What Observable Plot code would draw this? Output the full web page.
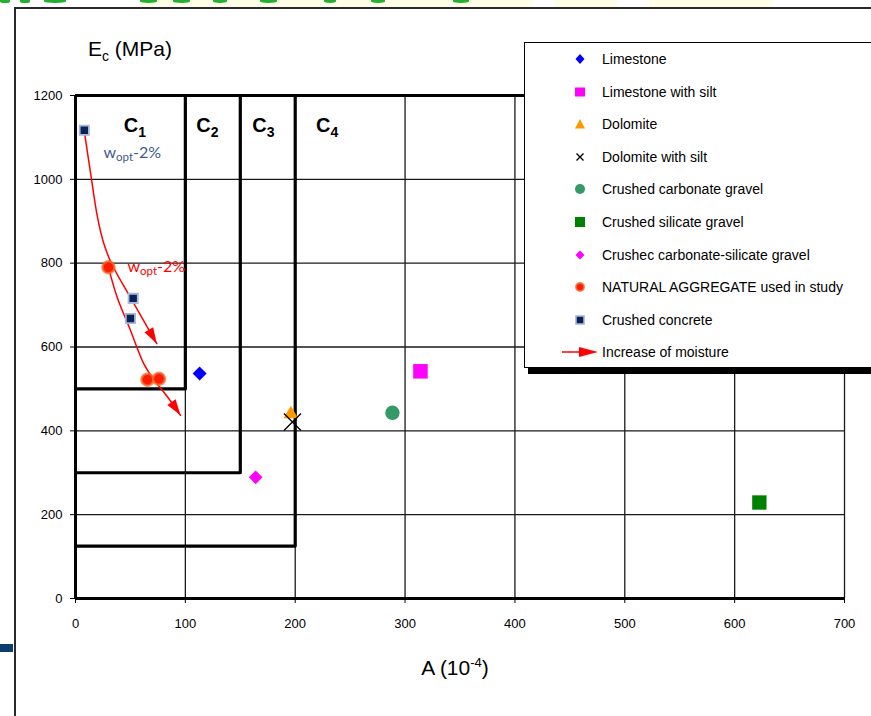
<!DOCTYPE html>
<html>
<head>
<meta charset="utf-8">
<script src="https://cdn.jsdelivr.net/npm/d3@7"></script>
<script src="https://cdn.jsdelivr.net/npm/@observablehq/plot@0.6"></script>
<style>
html, body { margin: 0; padding: 0; background: #fff; }
#wrap { position: relative; width: 871px; height: 716px; overflow: hidden; font-family: "Liberation Sans", Arial, sans-serif; color: #000; }
#wrap svg.chart { position: absolute; left: 0; top: 0; }
.frameTop { position: absolute; left: 15px; top: 7px; width: 900px; height: 2px; background: #2a2a2a; }
.frameLeft { position: absolute; left: 14px; top: 7px; width: 2px; height: 720px; background: #2a2a2a; }
.band { position: absolute; top: 0; height: 7px; background: #ffffe8; }
.blip { position: absolute; top: 0; height: 3px; background: #22b030; border-radius: 0 0 50% 50%; }
.bluebar { position: absolute; left: 0; top: 644px; width: 13px; height: 8px; background: #0b3d6e; }
.axtitle { position: absolute; font-size: 21px; white-space: nowrap; line-height: 24px; }
.legend { position: absolute; left: 524px; top: 42px; width: 400px; height: 324px; border: 1px solid #000; background: #fff; box-shadow: 4px 6px 0 #000; }
.lrow { position: absolute; left: 0; height: 20px; width: 380px; }
.lrow svg { position: absolute; left: 0; top: 0; }
.lrow span { position: absolute; left: 77px; top: 2px; font-size: 14px; line-height: 16px; white-space: nowrap; }
</style>
</head>
<body>
<div id="wrap"></div>
<script>
// ---------- data ----------
const xTicks = [0, 100, 200, 300, 400, 500, 600, 700];
const yTicks = [0, 200, 400, 600, 800, 1000, 1200];

const classNames = ["C1", "C2", "C3", "C4"];
const classMaxA = [100, 150, 200];
const classMinE = [500, 300, 125];
const classLabelA = [54, 120, 171, 229];
const classLabelE = 1128;

const seriesNames = [
  "Limestone",
  "Limestone with silt",
  "Dolomite",
  "Dolomite with silt",
  "Crushed carbonate gravel",
  "Crushed silicate gravel",
  "Crushec carbonate-silicate gravel",
  "NATURAL AGGREGATE used in study",
  "Crushed concrete"
];
const arrowLegendLabel = "Increase of moisture";

// [A (10^-4), Ec (MPa)]
const limestone = [[113, 537]];
const limestoneSilt = [[314, 542]];
const dolomite = [[196, 440]];
const dolomiteSilt = [[197.5, 421]];
const crushedCarbonate = [[288.5, 443]];
const crushedSilicate = [[622.5, 229]];
const crushedCarbSil = [[164, 289]];
const naturalAggregate = [[30, 790], [65.5, 522], [76, 524]];
const crushedConcrete = [[8, 1117], [52.5, 716], [50, 668]];

const concreteMoisturePath = [[8, 1115], [14, 1010], [20, 910], [26, 845], [33, 798], [50, 718], [65.5, 647], [74, 608]];
const naturalMoisturePath = [[30, 790], [38, 718], [50, 640], [62, 561], [70, 527], [84, 480], [95.6, 437]];

const woptLabelText = "wopt-2%";
const woptLabelConcrete = [[25.5, 1050]];
const woptLabelNatural = [[47.3, 778]];

// ---------- derived tables ----------
const toRows = arr => arr.map(([a, e]) => ({a, e}));
const boxLines = classMaxA.flatMap((amax, i) => [
  {c: classNames[i], a: 0, e: classMinE[i]},
  {c: classNames[i], a: amax, e: classMinE[i]},
  {c: classNames[i], a: amax, e: 1200}
]);
const classLabels = classNames.map((c, i) => ({c, a: classLabelA[i], e: classLabelE}));
const moistureRows = [
  ...concreteMoisturePath.map(([a, e]) => ({k: "concrete", a, e})),
  ...naturalMoisturePath.map(([a, e]) => ({k: "natural", a, e}))
];

function arrowHead(color) {
  const ns = "http://www.w3.org/2000/svg";
  const m = document.createElementNS(ns, "marker");
  m.setAttribute("viewBox", "-17 -6 18 12");
  m.setAttribute("markerWidth", 18);
  m.setAttribute("markerHeight", 12);
  m.setAttribute("markerUnits", "userSpaceOnUse");
  m.setAttribute("orient", "auto");
  m.setAttribute("refX", 0);
  m.setAttribute("refY", 0);
  const p = document.createElementNS(ns, "path");
  p.setAttribute("d", "M-16,-5L0,0L-16,5Z");
  p.setAttribute("fill", color);
  p.setAttribute("stroke", "none");
  m.appendChild(p);
  return m;
}

const chart = Plot.plot({
  width: 871,
  height: 716,
  marginLeft: 75,
  marginRight: 27,
  marginTop: 95,
  marginBottom: 118,
  style: {fontFamily: '"Liberation Sans", Arial, sans-serif', fontSize: "13px", color: "#000", background: "transparent", overflow: "visible"},
  x: {domain: [0, 700], ticks: xTicks, tickSize: 5, tickPadding: 15, label: null, tickFormat: d => String(d)},
  y: {domain: [0, 1200], ticks: yTicks, tickSize: 5, tickPadding: 8, label: null, tickFormat: d => String(d)},
  marks: [
    Plot.ruleX(xTicks.filter(d => d > 0), {stroke: "#1a1a1a", strokeWidth: 1.3}),
    Plot.ruleY(yTicks.filter(d => d > 0 && d < 1200), {stroke: "#1a1a1a", strokeWidth: 1.3}),
    Plot.ruleY([1200], {stroke: "#000", strokeWidth: 3}),
    Plot.line(boxLines, {x: "a", y: "e", z: "c", stroke: "#000", strokeWidth: 3.2}),
    Plot.ruleX([0], {stroke: "#000", strokeWidth: 3}),
    Plot.ruleY([0], {stroke: "#000", strokeWidth: 3}),
    Plot.line(moistureRows, {x: "a", y: "e", z: "k", curve: "catmull-rom", stroke: "#ff0000", strokeWidth: 1.5, markerEnd: arrowHead}),
    Plot.dot(toRows(limestone), {x: "a", y: "e", symbol: "diamond2", r: 6.3, fill: "#0000ff"}),
    Plot.dot(toRows(limestoneSilt), {x: "a", y: "e", symbol: "square", r: 8.2, fill: "#ff00ff"}),
    Plot.dot(toRows(crushedCarbonate), {x: "a", y: "e", symbol: "circle", r: 7.2, fill: "#339966"}),
    Plot.dot(toRows(crushedSilicate), {x: "a", y: "e", symbol: "square", r: 8.1, fill: "#008000"}),
    Plot.dot(toRows(crushedCarbSil), {x: "a", y: "e", symbol: "diamond2", r: 6.1, fill: "#ff00ff"}),
    Plot.dot(toRows(dolomite), {x: "a", y: "e", symbol: "triangle", r: 5.4, fill: "#ff9900"}),
    Plot.dot(toRows(dolomiteSilt), {x: "a", y: "e", symbol: "times", r: 7.8, stroke: "#000", strokeWidth: 1.3}),
    Plot.dot(toRows(naturalAggregate), {x: "a", y: "e", symbol: "circle", r: 6, fill: "#ff1a00", stroke: "#f07030", strokeWidth: 2.5, strokeOpacity: 0.75}),
    Plot.dot(toRows(crushedConcrete), {x: "a", y: "e", symbol: "square", r: 5.2, fill: "#0a2258", stroke: "#a8b8d8", strokeWidth: 1.8}),
    Plot.text(classLabels, {x: "a", y: "e", text: "c", fontSize: 20, fontWeight: "bold", textAnchor: "middle", fill: "#000"}),
    Plot.text(toRows(woptLabelConcrete), {x: "a", y: "e", text: () => woptLabelText, fontSize: 16, textAnchor: "start", lineAnchor: "bottom", fill: "#3b5b8c", fontFamily: "Lato, 'Open Sans', sans-serif"}),
    Plot.text(toRows(woptLabelNatural), {x: "a", y: "e", text: () => woptLabelText, fontSize: 16, textAnchor: "start", lineAnchor: "bottom", fill: "#ff0000", fontFamily: "Lato, 'Open Sans', sans-serif"})
  ]
});
chart.classList.add("chart");

// rich text: subscripts
const NS = "http://www.w3.org/2000/svg";
function tspan(txt, attrs) {
  const t = document.createElementNS(NS, "tspan");
  for (const k in attrs) t.setAttribute(k, attrs[k]);
  t.textContent = txt;
  return t;
}
chart.querySelectorAll("text").forEach(t => {
  const s = t.textContent;
  if (/^C\d$/.test(s)) {
    const host = t.querySelector("tspan") || t;
    host.textContent = "";
    host.appendChild(tspan("C", {}));
    host.appendChild(tspan(s.slice(1), {"font-size": 14, dy: "5"}));
  } else if (s === woptLabelText) {
    const host = t.querySelector("tspan") || t;
    host.textContent = "";
    host.appendChild(tspan("w", {}));
    host.appendChild(tspan("opt", {"font-size": 11.5, dy: "3"}));
    host.appendChild(tspan("-2%", {dy: "-3"}));
  }
});

const wrap = document.getElementById("wrap");
wrap.appendChild(chart);

// frame and slide decoration
const deco = [
  ["band", 140, 393], ["band", 555, 62], ["band", 649, 124],
  ["blip", 0, 10], ["blip", 20, 10], ["blip", 44, 22], ["blip", 140, 17], ["blip", 173, 17],
  ["blip", 213, 14], ["blip", 260, 17], ["blip", 324, 12], ["blip", 371, 14], ["blip", 453, 16]
];
deco.forEach(([cls, left, w]) => {
  const d = document.createElement("div");
  d.className = cls; d.style.left = left + "px"; d.style.width = w + "px";
  wrap.appendChild(d);
});
["frameTop", "frameLeft", "bluebar"].forEach(c => {
  const d = document.createElement("div"); d.className = c; wrap.appendChild(d);
});

// axis titles
const yt = document.createElement("div");
yt.className = "axtitle";
yt.style.left = "88px"; yt.style.top = "37px";
yt.innerHTML = 'E<span style="font-size:14px;position:relative;top:5px">c</span> (MPa)';
wrap.appendChild(yt);
const xt = document.createElement("div");
xt.className = "axtitle";
xt.style.left = "455px"; xt.style.top = "656px"; xt.style.transform = "translateX(-50%)";
xt.innerHTML = 'A (10<span style="font-size:13px;position:relative;top:-8px">-4</span>)';
wrap.appendChild(xt);

// legend
const legendSymbols = [
  '<path d="M55,5 L59.5,10 L55,15 L50.5,10Z" fill="#0000ff"/>',
  '<rect x="50" y="5.5" width="10" height="9" fill="#ff00ff"/>',
  '<path d="M55,5 L60,14.5 L50,14.5Z" fill="#ff9900"/>',
  '<path d="M51.5,6.5 L58.5,13.5 M58.5,6.5 L51.5,13.5" stroke="#000" stroke-width="1.4"/>',
  '<circle cx="55" cy="10" r="5" fill="#339966"/>',
  '<rect x="50" y="5" width="10" height="10" fill="#008000"/>',
  '<path d="M55,5.5 L59.5,10 L55,14.5 L50.5,10Z" fill="#ff00ff"/>',
  '<circle cx="55" cy="10" r="4" fill="#ff1a00" stroke="#f07030" stroke-width="2" stroke-opacity="0.8"/>',
  '<rect x="51" y="6" width="8" height="8" fill="#0a2258" stroke="#a8b8d8" stroke-width="1.6"/>'
];
const legend = document.createElement("div");
legend.className = "legend";
const rowY0 = 58 - 42 - 10;
const rowGap = 32.6;
seriesNames.forEach((name, i) => {
  const r = document.createElement("div");
  r.className = "lrow";
  r.style.top = (rowY0 + rowGap * i) + "px";
  r.innerHTML = `<svg width="80" height="20">${legendSymbols[i]}</svg><span>${name}</span>`;
  legend.appendChild(r);
});
const ar = document.createElement("div");
ar.className = "lrow";
ar.style.top = (rowY0 + rowGap * seriesNames.length) + "px";
ar.innerHTML = `<svg width="80" height="20"><line x1="37" y1="10" x2="56" y2="10" stroke="#ff0000" stroke-width="1.5"/><path d="M54,5 L73,10 L54,15Z" fill="#ff0000"/></svg><span>${arrowLegendLabel}</span>`;
legend.appendChild(ar);
wrap.appendChild(legend);
</script>
</body>
</html>
